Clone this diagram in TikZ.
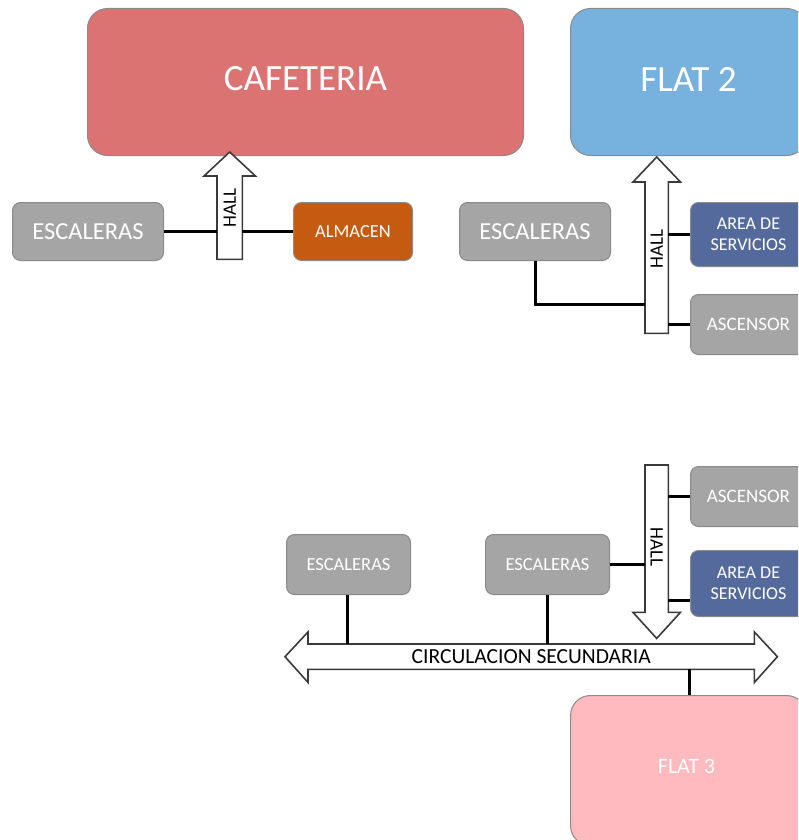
\documentclass[tikz,border=0pt]{standalone}
\usepackage{fontspec}
\setmainfont{Carlito}
\usetikzlibrary{calc}
\definecolor{cafe}{HTML}{DC7373}
\definecolor{flatblue}{HTML}{77B1DE}
\definecolor{boxgrey}{HTML}{A5A5A5}
\definecolor{almacenc}{HTML}{C55A11}
\definecolor{servblue}{HTML}{546A9C}
\definecolor{flatpink}{HTML}{FFBAC0}
\definecolor{edgegrey}{HTML}{8A8A8A}
\definecolor{arrowedge}{HTML}{3A3A3A}
\tikzset{
  room/.style={draw=edgegrey, line width=1pt, rounded corners=#1, text=white, inner sep=0pt, anchor=north west},
  room/.default=8pt,
  link/.style={line width=3pt, black},
  blockarrow/.style={draw=arrowedge, line width=1.6pt, fill=white, line join=miter},
  shaft/.style={inner sep=0pt, anchor=north west},
  fs/.style={font=\fontsize{#1}{#1}\selectfont},
  halltext/.style={font=\fontsize{19}{19}\selectfont},
}
\begin{document}
\begin{tikzpicture}[x=1pt, y=-1pt]
\useasboundingbox (0,0) rectangle (798,840);
\clip (0,0) rectangle (798,840);

% large rooms
\node[room=20pt, fill=cafe, minimum width=436pt, minimum height=147pt] (cafe) at (87,8) {};
\node[text=white, fs=37] at ($(cafe.center)+(0,-3)$) {CAFETERIA};
\node[room=20pt, fill=flatblue, minimum width=236pt, minimum height=147pt] (flat2) at (570,8) {};
\node[text=white, fs=37] at ($(flat2.center)+(0,-3)$) {FLAT 2};
\node[room=20pt, fill=flatpink, minimum width=236pt, minimum height=150pt] (flat3) at (570,695) {};
\node[text=white, fs=22] at ($(flat3.center)+(-2,-4)$) {FLAT 3};

% upper left group
\node[room, fill=boxgrey, minimum width=151pt, minimum height=58pt] (escA) at (12,202) {};
\node[text=white, fs=24.5] at (escA.center) {ESCALERAS};
\node[room, fill=almacenc, minimum width=119pt, minimum height=58pt] (alm) at (293,202) {};
\node[text=white, fs=18.5] at (alm.center) {ALMACEN};

\node[shaft, minimum width=25pt, minimum height=83pt] (hallA) at (217,176) {};
\draw[blockarrow] (hallA.south west) -- (hallA.north west) -- ++(-13,0) -- ($(hallA.north)+(0,-24)$)
  -- ($(hallA.north east)+(13,0)$) -- (hallA.north east) -- (hallA.south east) -- cycle;
\node[rotate=90, halltext] at ($(hallA.center)+(0,-9.5)$) {HALL};
\draw[link] (escA.east) -- (escA.east -| hallA.west);
\draw[link] (hallA.east |- alm.west) -- (alm.west);

% upper right group
\node[room, fill=boxgrey, minimum width=151pt, minimum height=58pt] (escB) at (459,202) {};
\node[text=white, fs=24.5] at (escB.center) {ESCALERAS};
\node[room, fill=servblue, minimum width=116pt, minimum height=64pt] (servA) at (690,202) {};
\node[text=white, align=center, font=\fontsize{18}{21}\selectfont] at (servA.center) {AREA DE\\SERVICIOS};
\node[room, fill=boxgrey, minimum width=116pt, minimum height=60pt] (ascA) at (690,294) {};
\node[text=white, fs=19] at (ascA.center) {ASCENSOR};

\node[shaft, minimum width=23pt, minimum height=151pt] (hallB) at (645,182) {};
\draw[blockarrow] (hallB.south west) -- (hallB.north west) -- ++(-12,0) -- ($(hallB.north)+(0,-25)$)
  -- ($(hallB.north east)+(12,0)$) -- (hallB.north east) -- (hallB.south east) -- cycle;
\node[rotate=90, halltext] at ($(hallB.center)+(0,-8.5)$) {HALL};
\draw[link] (escB.south) |- (hallB.west |- 0,304);
\draw[link] (hallB.east |- 0,234) -- (servA.west |- 0,234);
\draw[link] (hallB.east |- ascA.west) -- (ascA.west);

% lower group
\node[room, fill=boxgrey, minimum width=116pt, minimum height=60pt] (ascB) at (690,466) {};
\node[text=white, fs=19] at (ascB.center) {ASCENSOR};
\node[room, fill=servblue, minimum width=116pt, minimum height=66pt] (servB) at (690,550) {};
\node[text=white, align=center, font=\fontsize{18}{21}\selectfont] at (servB.center) {AREA DE\\SERVICIOS};
\node[room, fill=boxgrey, minimum width=124pt, minimum height=60pt] (escC) at (286,534) {};
\node[text=white, fs=18.5] at (escC.center) {ESCALERAS};
\node[room, fill=boxgrey, minimum width=124pt, minimum height=60pt] (escD) at (485,534) {};
\node[text=white, fs=18.5] at (escD.center) {ESCALERAS};

\node[shaft, minimum width=23pt, minimum height=147pt] (hallC) at (645,465) {};
\draw[blockarrow] (hallC.north west) -- (hallC.south west) -- ++(-12,0) -- ($(hallC.south)+(0,26)$)
  -- ($(hallC.south east)+(12,0)$) -- (hallC.south east) -- (hallC.north east) -- cycle;
\node[rotate=-90, halltext] at ($(hallC.center)+(0,8)$) {HALL};

\node[shaft, minimum width=446pt, minimum height=25pt] (circ) at (308,644) {};
\draw[blockarrow] (circ.north west) -- (circ.north east) -- ++(0,-12) -- ($(circ.east)+(23,0)$)
  -- ($(circ.south east)+(0,13)$) -- (circ.south east) -- (circ.south west) -- ++(0,13)
  -- ($(circ.west)+(-23,0)$) -- ($(circ.north west)+(0,-12)$) -- cycle;
\node[fs=21.5] at ($(circ.center)+(0,0)$) {CIRCULACION SECUNDARIA};

\draw[link] (escD.east) -- (escD.east -| hallC.west);
\draw[link] (hallC.east |- ascB.west) -- (ascB.west);
\draw[link] (hallC.east |- 0,600) -- (servB.west |- 0,600);
\draw[link] (escC.south -| 347,0) -- (circ.north -| 347,0);
\draw[link] (escD.south) -- (circ.north -| escD.south);
\draw[link] (circ.south -| 689,0) -- (flat3.north -| 689,0);
\end{tikzpicture}
\end{document}
